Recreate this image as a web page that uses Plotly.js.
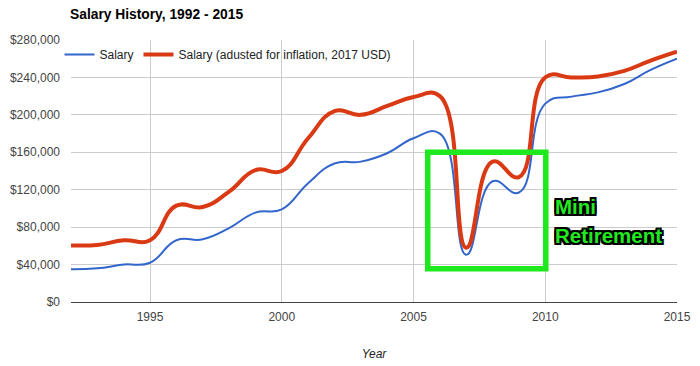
<!DOCTYPE html>
<html>
<head>
<meta charset="utf-8">
<script src="https://cdn.plot.ly/plotly-3.0.1.min.js"></script>
<style>html,body{margin:0;padding:0;background:#fff;}#chart{width:700px;height:366px;}</style>
</head>
<body>
<div id="chart"></div>
<script>
// Data (values in USD)
const years = [1992,1993,1994,1995,1996,1997,1998,1999,2000,2001,2002,2003,2004,2005,2006,2007,2008,2009,2010,2011,2012,2013,2014,2015];
const salary = [35000,36000,40000,42000,66000,67000,79000,95500,99000,127000,148000,150000,159000,175000,180000,50500,129000,117000,212000,219500,224000,233000,248000,260000];
const salaryAdjusted = [60500,61000,66000,66000,103000,101500,118000,141000,140000,175000,204000,200000,209500,219000,220000,58000,150000,133500,240000,240000,241000,247000,258000,267500];
const seriesNames = ["Salary", "Salary (adusted for inflation, 2017 USD)"];
const yTicks = [0,40000,80000,120000,160000,200000,240000,280000];
const yTickLabels = ["$0","$40,000","$80,000","$120,000","$160,000","$200,000","$240,000","$280,000"];
const xTicks = [1995,2000,2005,2010,2015];
const highlight = {x0: 2005.54, x1: 2010.02, y0: 35500, y1: 160000};
const noteLines = ["Mini", "Retirement"];
const noteY = [102500, 71500];
const noteX = 2010.28;

const FONT = "Liberation Sans, Arial, sans-serif";
const o = "2px";
const outline = ["-"+o+" -"+o, o+" -"+o, "-"+o+" "+o, o+" "+o, "0 "+o, "0 -"+o, o+" 0", "-"+o+" 0"].map(s => s + " 0 #000").join(", ");

const traces = [
  {x: years, y: salary, name: seriesNames[0], type: "scatter", mode: "lines",
   line: {color: "#3366cc", width: 2, shape: "spline", smoothing: 1.3}},
  {x: years, y: salaryAdjusted, name: seriesNames[1], type: "scatter", mode: "lines",
   line: {color: "#d93a14", width: 4, shape: "spline", smoothing: 1.3}}
];

const layout = {
  width: 700, height: 366,
  margin: {l: 71, r: 23, t: 40, b: 64},
  paper_bgcolor: "#fff", plot_bgcolor: "#fff",
  font: {family: FONT, size: 12, color: "#444"},
  title: {text: "<b>Salary History, 1992 - 2015</b>", x: 70/700, xanchor: "left",
          y: 1 - 14/366, yanchor: "middle", yref: "container",
          font: {family: FONT, size: 13.8, color: "#000"}},
  showlegend: true,
  legend: {orientation: "h", x: -0.019, xanchor: "left", y: 1.0, yanchor: "top",
           bgcolor: "rgba(0,0,0,0)", font: {family: FONT, size: 12, color: "#222"}},
  xaxis: {range: [1992, 2015], tickvals: xTicks, ticktext: xTicks.map(String),
          showgrid: true, gridcolor: "#cccccc", gridwidth: 1, zeroline: false,
          showline: false, ticks: "", ticklabelstandoff: 6,
          tickfont: {family: FONT, size: 12, color: "#444"},
          title: {text: "<i>Year</i>", font: {family: FONT, size: 12, color: "#222"}, standoff: 26}},
  yaxis: {range: [0, 280000], tickvals: yTicks, ticktext: yTickLabels,
          showgrid: true, gridcolor: "#cccccc", gridwidth: 1,
          zeroline: true, zerolinecolor: "#444", zerolinewidth: 1,
          showline: false, ticks: "", ticklabelstandoff: 10,
          tickfont: {family: FONT, size: 12, color: "#444"}},
  shapes: [{type: "rect", xref: "x", yref: "y", x0: highlight.x0, x1: highlight.x1,
            y0: highlight.y0, y1: highlight.y1, line: {color: "#1ee81e", width: 5.5},
            fillcolor: "rgba(0,0,0,0)", layer: "above"}],
  annotations: noteLines.map((t, i) => ({
    text: "<b>" + t + "</b>", x: noteX, y: noteY[i], xref: "x", yref: "y",
    xanchor: "left", yanchor: "middle", showarrow: false,
    font: {family: FONT, size: 20.5, color: "#22e822", shadow: outline}
  }))
};

Plotly.newPlot("chart", traces, layout, {staticPlot: true});
</script>
</body>
</html>
